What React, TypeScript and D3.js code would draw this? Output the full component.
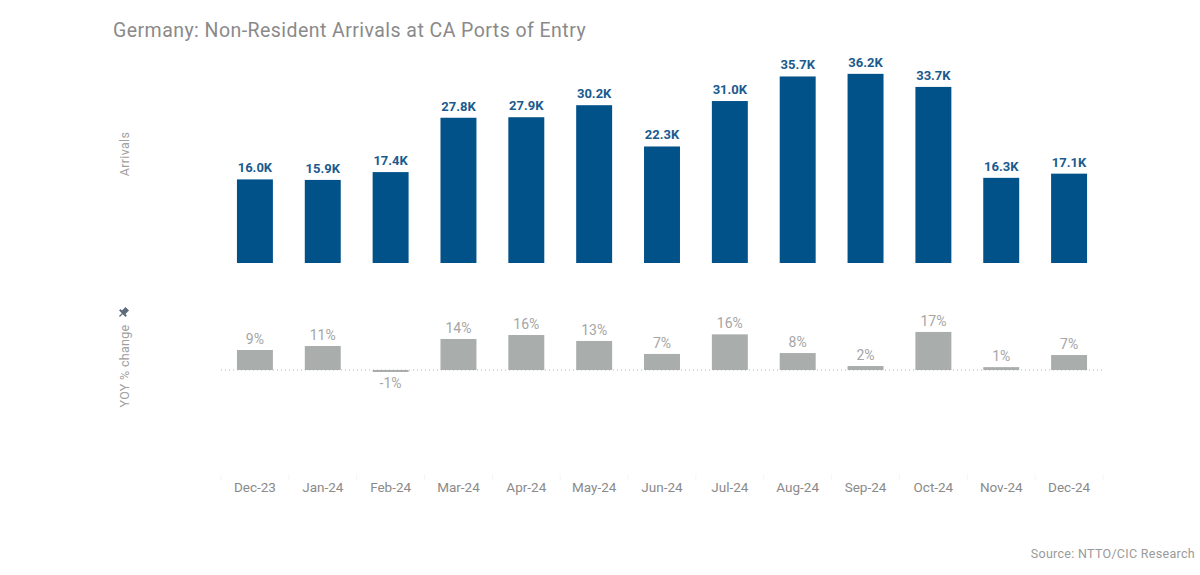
import React from "react";
import * as d3 from "d3";

const months = ["Dec-23","Jan-24","Feb-24","Mar-24","Apr-24","May-24","Jun-24","Jul-24","Aug-24","Sep-24","Oct-24","Nov-24","Dec-24"];
const arrivals = [16.0, 15.9, 17.4, 27.8, 27.9, 30.2, 22.3, 31.0, 35.7, 36.2, 33.7, 16.3, 17.1];
const yoy = [9.1, 10.9, -0.6, 14.1, 15.9, 13.2, 7.3, 16.2, 7.7, 1.8, 17.3, 1.3, 6.8];

const W = 1200, H = 575;
const FONT = "Roboto, 'Open Sans', sans-serif";

export default function App() {
  const x = d3.scaleBand<string>().domain(months).range([221, 1103]).paddingInner(0.47).paddingOuter(0.235);
  const yTop = d3.scaleLinear().domain([0, 40]).range([263, 54]);
  const yBot = d3.scaleLinear().domain([-40, 20]).range([458, 326]);
  const zero = yBot(0);
  const step = x.step();
  const bounds = months.map((_, i) => 221 + i * step).concat([1103]);

  return (
    <svg width={W} height={H} style={{ position: "absolute", left: 0, top: 0 }} fontFamily={FONT}>
      <text x={113} y={37} fontSize={19.5} letterSpacing={0.45} fill="#8a8a8a">Germany: Non-Resident Arrivals at CA Ports of Entry</text>

      <text transform={`translate(129,154) rotate(-90)`} textAnchor="middle" fontSize={12.5} letterSpacing={0.3} fill="#a0a0a0">Arrivals</text>
      <text transform={`translate(129,366) rotate(-90)`} textAnchor="middle" fontSize={12.5} letterSpacing={0.3} fill="#a0a0a0">YOY % change</text>
      <g transform="translate(123,313) rotate(45)" fill="#5d6b7c">
        <rect x={-2.5} y={-6} width={5} height={6} />
        <rect x={-4.5} y={-1} width={9} height={2} />
        <rect x={-0.6} y={0} width={1.2} height={5} />
      </g>

      {months.map((m, i) => (
        <g key={m}>
          <rect x={x(m)} y={yTop(arrivals[i])} width={x.bandwidth()} height={yTop(0) - yTop(arrivals[i])} fill="#02528a" />
          <text x={(x(m) as number) + x.bandwidth() / 2} y={yTop(arrivals[i]) - 7} textAnchor="middle" fontSize={13} fontWeight="bold" fill="#1a5a8e">
            {arrivals[i].toFixed(1)}K
          </text>
        </g>
      ))}

      <line x1={221} x2={1103} y1={zero} y2={zero} stroke="#b5b5b5" strokeWidth={1} strokeDasharray="1,3" />
      {months.map((m, i) => {
        const v = yoy[i];
        const raw = Math.abs(yBot(v) - zero);
        const h = Math.max(raw, 2);
        const cx = (x(m) as number) + x.bandwidth() / 2;
        return (
          <g key={m}>
            <rect x={x(m)} y={v >= 0 ? zero - h : zero} width={x.bandwidth()} height={h} fill="#a9adac" />
            <text x={cx} y={v >= 0 ? yBot(v) - 6 : zero + 18} textAnchor="middle" fontSize={14} fill="#a5a5a5">
              {Math.round(v)}%
            </text>
          </g>
        );
      })}

      {bounds.map((b, i) => (
        <line key={i} x1={b} x2={b} y1={474} y2={480} stroke="#f5f5f5" strokeWidth={1} />
      ))}
      {months.map((m) => (
        <text key={m} x={(x(m) as number) + x.bandwidth() / 2} y={492} textAnchor="middle" fontSize={13.5} fill="#8a8a8a">{m}</text>
      ))}

      <text x={1195} y={558} textAnchor="end" fontSize={12.5} letterSpacing={0.3} fill="#9a9a9a">Source: NTTO/CIC Research</text>
    </svg>
  );
}
